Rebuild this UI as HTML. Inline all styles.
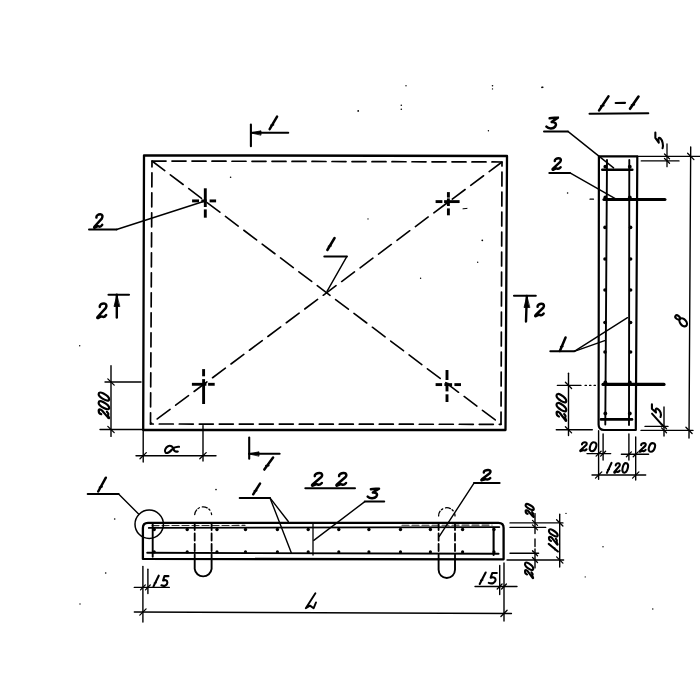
<!DOCTYPE html>
<html><head><meta charset="utf-8"><style>
html,body{margin:0;padding:0;background:#fff;}
svg{display:block;}
</style></head><body>
<svg width="700" height="700" viewBox="0 0 700 700">
<rect width="700" height="700" fill="#fff"/>
<g fill="none" stroke="#000" stroke-linecap="round" stroke-linejoin="round">
<g>
<path d="M144.0,155.3 L507.0,156.0 L505.5,430.0 L143.2,430.0 L144.0,155.3" stroke-width="2.3"/>
<path d="M152.0,161.0 L502.0,162.0 L501.0,424.3 L150.5,424.0 L152.0,161.0" stroke-width="1.7" stroke-dasharray="14 6" stroke-dashoffset="0"/>
<path d="M152.0,161.0 L501.0,424.3" stroke-width="1.6" stroke-dasharray="16 7" stroke-dashoffset="0"/>
<path d="M502.0,162.0 L150.5,424.0" stroke-width="1.6" stroke-dasharray="16 7" stroke-dashoffset="0"/>
<path d="M205.3,188.3 L205.3,207.0" stroke-width="2.9" stroke-linecap="butt"/>
<path d="M205.3,209.4 L205.3,217.7" stroke-width="2.9" stroke-linecap="butt"/>
<path d="M192.1,200.9 L199.0,200.9" stroke-width="2.9" stroke-linecap="butt"/>
<path d="M201.3,200.9 L206.7,200.9" stroke-width="2.9" stroke-linecap="butt"/>
<path d="M209.6,200.9 L216.1,200.9" stroke-width="2.9" stroke-linecap="butt"/>
<path d="M448.4,192.1 L448.4,197.6" stroke-width="2.9" stroke-linecap="butt"/>
<path d="M448.4,198.4 L448.4,206.0" stroke-width="2.9" stroke-linecap="butt"/>
<path d="M448.4,208.4 L448.4,215.3" stroke-width="2.9" stroke-linecap="butt"/>
<path d="M435.6,201.6 L442.4,201.6" stroke-width="2.9" stroke-linecap="butt"/>
<path d="M444.1,201.6 L459.6,201.6" stroke-width="2.9" stroke-linecap="butt"/>
<path d="M203.6,369.1 L203.6,376.3" stroke-width="2.9" stroke-linecap="butt"/>
<path d="M203.6,379.1 L203.6,404.0" stroke-width="2.9" stroke-linecap="butt"/>
<path d="M191.9,384.3 L206.4,384.3" stroke-width="2.9" stroke-linecap="butt"/>
<path d="M208.1,384.3 L214.7,384.3" stroke-width="2.9" stroke-linecap="butt"/>
<path d="M447.0,370.0 L447.0,380.0" stroke-width="2.9" stroke-linecap="butt"/>
<path d="M447.0,382.6 L447.0,391.4" stroke-width="2.9" stroke-linecap="butt"/>
<path d="M447.0,394.3 L447.0,402.0" stroke-width="2.9" stroke-linecap="butt"/>
<path d="M435.6,384.6 L442.1,384.6" stroke-width="2.9" stroke-linecap="butt"/>
<path d="M444.4,384.6 L452.1,384.6" stroke-width="2.9" stroke-linecap="butt"/>
<path d="M454.4,384.6 L461.0,384.6" stroke-width="2.9" stroke-linecap="butt"/>
<path d="M250.9,124.6 L250.9,146.3" stroke-width="2.1"/>
<path d="M251.0,132.8 L288.3,132.8" stroke-width="1.9"/>
<path d="M251.0,132.8 L261.0,130.8 L261.0,134.8Z" fill="#000" stroke-width="0.8"/>
<g transform="translate(268.80,116.60) scale(1.0875,0.8929)" stroke-width="2.5"><path vector-effect="non-scaling-stroke" transform="translate(0,0)" d="M0.8,14 L7.6,0 M2.3,9.8 L3.9,9.0"/></g>
<path d="M249.2,437.6 L249.2,458.7" stroke-width="2.1"/>
<path d="M249.0,453.8 L279.7,453.8" stroke-width="1.9"/>
<path d="M249.0,453.8 L259.0,451.8 L259.0,455.8Z" fill="#000" stroke-width="0.8"/>
<g transform="translate(263.30,457.60) scale(1.2875,0.8571)" stroke-width="2.5"><path vector-effect="non-scaling-stroke" transform="translate(0,0)" d="M0.8,14 L7.6,0 M2.3,9.8 L3.9,9.0"/></g>
<path d="M108.5,294.8 L129.0,294.8" stroke-width="2.1"/>
<path d="M116.8,294.8 L116.8,317.5" stroke-width="2.4"/>
<path d="M116.8,295.5 L114.0,306.5 L119.5,306.5Z" fill="#000" stroke-width="0.8"/>
<g transform="translate(96.00,303.00) scale(1.1000,1.1071)" stroke-width="2.5"><path vector-effect="non-scaling-stroke" transform="translate(0,0)" d="M3.4,3.6 C3.2,1.6 5.2,0.3 7.4,0.4 C9.6,0.5 10,2.6 8.8,4.6 L1.6,12.4 C0.6,13.6 1.4,14 2.6,13.2 C3.8,12.4 4.6,11.8 5.8,12.4 C7,13 8,12.6 9.2,10.8"/></g>
<path d="M514.0,295.7 L535.8,295.7" stroke-width="2.1"/>
<path d="M526.8,296.0 L526.0,321.5" stroke-width="2.4"/>
<path d="M526.8,296.5 L524.0,307.5 L529.5,307.5Z" fill="#000" stroke-width="0.8"/>
<g transform="translate(534.00,303.50) scale(1.0500,0.9286)" stroke-width="2.5"><path vector-effect="non-scaling-stroke" transform="translate(0,0)" d="M3.4,3.6 C3.2,1.6 5.2,0.3 7.4,0.4 C9.6,0.5 10,2.6 8.8,4.6 L1.6,12.4 C0.6,13.6 1.4,14 2.6,13.2 C3.8,12.4 4.6,11.8 5.8,12.4 C7,13 8,12.6 9.2,10.8"/></g>
<path d="M89.0,229.5 L116.6,229.5" stroke-width="2.0"/>
<path d="M116.6,229.5 L205.0,201.0" stroke-width="1.4"/>
<g transform="translate(93.00,213.90) scale(1.0000,1.0143)" stroke-width="2.5"><path vector-effect="non-scaling-stroke" transform="translate(0,0)" d="M3.4,3.6 C3.2,1.6 5.2,0.3 7.4,0.4 C9.6,0.5 10,2.6 8.8,4.6 L1.6,12.4 C0.6,13.6 1.4,14 2.6,13.2 C3.8,12.4 4.6,11.8 5.8,12.4 C7,13 8,12.6 9.2,10.8"/></g>
<path d="M324.3,256.4 L346.9,256.4" stroke-width="2.0"/>
<path d="M346.9,256.4 L327.0,291.4" stroke-width="1.4"/>
<g transform="translate(326.50,238.00) scale(1.0625,0.8571)" stroke-width="2.5"><path vector-effect="non-scaling-stroke" transform="translate(0,0)" d="M0.8,14 L7.6,0 M2.3,9.8 L3.9,9.0"/></g>
<path d="M111.0,365.7 L111.0,436.4" stroke-width="1.4"/>
<path d="M105.0,382.0 L141.0,382.0" stroke-width="1.4"/>
<path d="M100.0,429.5 L143.0,429.5" stroke-width="1.4"/>
<path d="M107.8,378.9 L114.2,385.1" stroke-width="1.3"/>
<path d="M107.8,426.4 L114.2,432.6" stroke-width="1.3"/>
<g transform="translate(98.40,419.20) rotate(-90) scale(0.7198,0.7857) translate(4.900,0) skewX(-19.29)" stroke-width="2.2"><path vector-effect="non-scaling-stroke" transform="translate(0,0)" d="M3.4,3.6 C3.2,1.6 5.2,0.3 7.4,0.4 C9.6,0.5 10,2.6 8.8,4.6 L1.6,12.4 C0.6,13.6 1.4,14 2.6,13.2 C3.8,12.4 4.6,11.8 5.8,12.4 C7,13 8,12.6 9.2,10.8"/><path vector-effect="non-scaling-stroke" transform="translate(12,0)" d="M5.8,0.3 C9,0.3 9.8,3 9,6.5 C8,11 6,13.7 3.6,13.7 C0.8,13.7 0.3,10.5 1.1,7 C2,3 3.5,0.3 5.8,0.3 Z"/><path vector-effect="non-scaling-stroke" transform="translate(24,0)" d="M5.8,0.3 C9,0.3 9.8,3 9,6.5 C8,11 6,13.7 3.6,13.7 C0.8,13.7 0.3,10.5 1.1,7 C2,3 3.5,0.3 5.8,0.3 Z"/></g>
<path d="M136.0,455.7 L216.0,455.7" stroke-width="1.4"/>
<path d="M143.2,430.0 L143.2,462.0" stroke-width="1.4"/>
<path d="M203.0,425.6 L203.0,461.0" stroke-width="1.4"/>
<path d="M140.0,458.8 L146.3,452.6" stroke-width="1.3"/>
<path d="M199.8,458.8 L206.2,452.6" stroke-width="1.3"/>
<path d="M179,446.8 C176,446.5 173.5,448 172,449.5 C170,452 167,454 165.5,452.5 C164,451 165.5,447.5 168,446.3 C170.5,445 173,446.5 173.5,449 C174,451 175.5,452 177.8,451.5" stroke-width="2.1"/>
<g transform="translate(598.00,96.40) scale(1.3750,1.0000)" stroke-width="2.6"><path vector-effect="non-scaling-stroke" transform="translate(0,0)" d="M0.8,14 L7.6,0 M2.3,9.8 L3.9,9.0"/></g>
<path d="M615.7,103.0 L625.0,102.8" stroke-width="2.2"/>
<g transform="translate(629.00,96.60) scale(1.2500,0.8714)" stroke-width="2.6"><path vector-effect="non-scaling-stroke" transform="translate(0,0)" d="M0.8,14 L7.6,0 M2.3,9.8 L3.9,9.0"/></g>
<path d="M589.5,113.8 L648.3,113.3" stroke-width="2.0"/>
<path d="M598.9,156.3 L637.3,156.3 L635.8,430 L604,430 Q598.6,430 598.6,424.5 Z" stroke-width="2.2"/>
<path d="M607.0,160.0 L605.3,424.6" stroke-width="1.9"/>
<path d="M629.3,160.0 L629.0,425.0" stroke-width="1.9"/>
<path d="M602.3,169.7 L632.3,169.7" stroke-width="2.6"/>
<path d="M601.0,419.4 L632.0,419.4" stroke-width="2.6"/>
<path d="M604.0,199.5 L664.9,199.5" stroke-width="3.2"/>
<path d="M603.0,384.4 L664.0,384.4" stroke-width="3.2"/>
<circle cx="605.0" cy="227.4" r="1.8" fill="#000" stroke="none"/>
<circle cx="630.6" cy="227.4" r="1.8" fill="#000" stroke="none"/>
<circle cx="605.0" cy="259.0" r="1.8" fill="#000" stroke="none"/>
<circle cx="630.6" cy="259.0" r="1.8" fill="#000" stroke="none"/>
<circle cx="605.0" cy="290.0" r="1.8" fill="#000" stroke="none"/>
<circle cx="630.6" cy="290.0" r="1.8" fill="#000" stroke="none"/>
<circle cx="605.0" cy="322.5" r="1.8" fill="#000" stroke="none"/>
<circle cx="630.6" cy="322.5" r="1.8" fill="#000" stroke="none"/>
<circle cx="605.0" cy="352.0" r="1.8" fill="#000" stroke="none"/>
<circle cx="630.6" cy="352.0" r="1.8" fill="#000" stroke="none"/>
<circle cx="605.3" cy="166.7" r="1.9" fill="#000" stroke="none"/>
<circle cx="629.8" cy="166.7" r="1.9" fill="#000" stroke="none"/>
<circle cx="605.3" cy="197.5" r="1.9" fill="#000" stroke="none"/>
<circle cx="629.8" cy="197.5" r="1.9" fill="#000" stroke="none"/>
<circle cx="605.3" cy="382.5" r="1.9" fill="#000" stroke="none"/>
<circle cx="629.8" cy="382.5" r="1.9" fill="#000" stroke="none"/>
<circle cx="605.3" cy="413.5" r="1.9" fill="#000" stroke="none"/>
<circle cx="629.8" cy="413.5" r="1.9" fill="#000" stroke="none"/>
<path d="M544.0,131.4 L567.9,131.4" stroke-width="2.0"/>
<path d="M567.9,131.4 L613.6,167.9" stroke-width="1.4"/>
<g transform="translate(545.40,117.10) scale(1.2500,0.8714)" stroke-width="2.5"><path vector-effect="non-scaling-stroke" transform="translate(0,0)" d="M3.4,1.4 C5.5,0.6 8,1.0 10,0.6 L5.0,5.6 C8.4,5.4 9.2,8.4 7.8,10.9 C6.4,13.5 2.6,13.8 0.8,11.0"/></g>
<path d="M549.3,172.9 L570.0,172.9" stroke-width="2.0"/>
<path d="M570.0,172.9 L617.0,199.7" stroke-width="1.4"/>
<g transform="translate(551.40,157.90) scale(1.0000,0.8643)" stroke-width="2.5"><path vector-effect="non-scaling-stroke" transform="translate(0,0)" d="M3.4,3.6 C3.2,1.6 5.2,0.3 7.4,0.4 C9.6,0.5 10,2.6 8.8,4.6 L1.6,12.4 C0.6,13.6 1.4,14 2.6,13.2 C3.8,12.4 4.6,11.8 5.8,12.4 C7,13 8,12.6 9.2,10.8"/></g>
<path d="M550.3,351.3 L574.3,351.3" stroke-width="2.0"/>
<path d="M574.3,351.3 L604.7,340.6" stroke-width="1.4"/>
<path d="M574.3,351.3 L627.5,317.7" stroke-width="1.4"/>
<g transform="translate(559.20,337.50) scale(0.8375,0.9643)" stroke-width="2.5"><path vector-effect="non-scaling-stroke" transform="translate(0,0)" d="M0.8,14 L7.6,0 M2.3,9.8 L3.9,9.0"/></g>
<path d="M637.0,156.4 L700.0,156.4" stroke-width="1.4"/>
<path d="M641.3,160.9 L679.0,160.9" stroke-width="1.4"/>
<path d="M667.0,144.0 L667.0,166.7" stroke-width="1.3"/>
<path d="M664.5,154.0 L669.5,158.8" stroke-width="1.3"/>
<path d="M664.5,158.5 L669.5,163.3" stroke-width="1.3"/>
<g transform="translate(655.00,149.60) rotate(-90) scale(1.0353,0.6000) translate(7.000,0) skewX(-26.57)" stroke-width="2.1"><path vector-effect="non-scaling-stroke" transform="translate(0,0)" d="M9.8,0.6 L4.6,0.6 L2.8,6.3 C5,5.2 8.6,5.6 8.4,9 C8.2,12.5 4.5,14.3 0.6,12.6"/></g>
<path d="M690.7,147.0 L689.0,438.0" stroke-width="1.4"/>
<path d="M687.6,153.2 L693.9,159.6" stroke-width="1.3"/>
<path d="M685.9,427.2 L692.1,433.5" stroke-width="1.3"/>
<ellipse cx="677.6" cy="317.4" rx="2.6" ry="1.7" transform="rotate(38 677.6 317.4)" stroke-width="2.1"/>
<ellipse cx="683.2" cy="322.3" rx="4.6" ry="3.0" transform="rotate(50 683.2 322.3)" stroke-width="2.2"/>
<path d="M568.5,373.2 L568.5,435.5" stroke-width="1.4"/>
<path d="M557.4,385.4 L580.9,385.4" stroke-width="1.4"/>
<path d="M585.0,385.4 L598.0,385.4" stroke-width="1.1" stroke-dasharray="1.5 3"/>
<path d="M556.3,429.8 L592.3,429.8" stroke-width="1.4"/>
<path d="M565.4,382.2 L571.6,388.5" stroke-width="1.3"/>
<path d="M565.4,426.7 L571.6,432.9" stroke-width="1.3"/>
<g transform="translate(556.30,421.80) rotate(-90) scale(0.7506,0.7286) translate(4.900,0) skewX(-19.29)" stroke-width="2.2"><path vector-effect="non-scaling-stroke" transform="translate(0,0)" d="M3.4,3.6 C3.2,1.6 5.2,0.3 7.4,0.4 C9.6,0.5 10,2.6 8.8,4.6 L1.6,12.4 C0.6,13.6 1.4,14 2.6,13.2 C3.8,12.4 4.6,11.8 5.8,12.4 C7,13 8,12.6 9.2,10.8"/><path vector-effect="non-scaling-stroke" transform="translate(12,0)" d="M5.8,0.3 C9,0.3 9.8,3 9,6.5 C8,11 6,13.7 3.6,13.7 C0.8,13.7 0.3,10.5 1.1,7 C2,3 3.5,0.3 5.8,0.3 Z"/><path vector-effect="non-scaling-stroke" transform="translate(24,0)" d="M5.8,0.3 C9,0.3 9.8,3 9,6.5 C8,11 6,13.7 3.6,13.7 C0.8,13.7 0.3,10.5 1.1,7 C2,3 3.5,0.3 5.8,0.3 Z"/></g>
<path d="M645.0,426.4 L668.0,426.4" stroke-width="1.4"/>
<path d="M641.0,430.4 L693.0,430.4" stroke-width="1.4"/>
<path d="M664.0,407.0 L664.0,436.0" stroke-width="1.4"/>
<path d="M661.5,423.9 L666.5,428.8" stroke-width="1.3"/>
<path d="M661.5,427.9 L666.5,432.8" stroke-width="1.3"/>
<path d="M652.0,413.6 L663.5,426.5" stroke-width="1.9"/>
<g transform="translate(651.50,418.00) rotate(-90) scale(0.8235,0.7143) translate(7.000,0) skewX(-26.57)" stroke-width="2.1"><path vector-effect="non-scaling-stroke" transform="translate(0,0)" d="M9.8,0.6 L4.6,0.6 L2.8,6.3 C5,5.2 8.6,5.6 8.4,9 C8.2,12.5 4.5,14.3 0.6,12.6"/></g>
<path d="M598.6,430.7 L598.6,479.3" stroke-width="1.4"/>
<path d="M603.1,434.0 L603.1,460.0" stroke-width="1.4"/>
<path d="M628.9,434.0 L628.9,460.0" stroke-width="1.4"/>
<path d="M635.7,437.0 L635.7,480.0" stroke-width="1.4"/>
<path d="M587.0,453.6 L610.7,453.6" stroke-width="1.4"/>
<path d="M621.4,454.3 L648.6,454.3" stroke-width="1.4"/>
<path d="M592.0,475.0 L645.7,475.0" stroke-width="1.4"/>
<path d="M596.1,456.1 L601.1,451.2" stroke-width="1.3"/>
<path d="M600.6,456.1 L605.6,451.2" stroke-width="1.3"/>
<path d="M626.4,456.8 L631.4,451.9" stroke-width="1.3"/>
<path d="M633.2,456.8 L638.2,451.9" stroke-width="1.3"/>
<path d="M595.5,478.1 L601.8,471.9" stroke-width="1.3"/>
<path d="M632.6,478.1 L638.9,471.9" stroke-width="1.3"/>
<g transform="translate(579.30,442.00) scale(0.7867,0.6714)" stroke-width="2.1"><path vector-effect="non-scaling-stroke" transform="translate(0,0)" d="M3.4,3.6 C3.2,1.6 5.2,0.3 7.4,0.4 C9.6,0.5 10,2.6 8.8,4.6 L1.6,12.4 C0.6,13.6 1.4,14 2.6,13.2 C3.8,12.4 4.6,11.8 5.8,12.4 C7,13 8,12.6 9.2,10.8"/><path vector-effect="non-scaling-stroke" transform="translate(12.5,0)" d="M5.8,0.3 C9,0.3 9.8,3 9,6.5 C8,11 6,13.7 3.6,13.7 C0.8,13.7 0.3,10.5 1.1,7 C2,3 3.5,0.3 5.8,0.3 Z"/></g>
<g transform="translate(638.60,442.90) scale(0.7600,0.6500)" stroke-width="2.1"><path vector-effect="non-scaling-stroke" transform="translate(0,0)" d="M3.4,3.6 C3.2,1.6 5.2,0.3 7.4,0.4 C9.6,0.5 10,2.6 8.8,4.6 L1.6,12.4 C0.6,13.6 1.4,14 2.6,13.2 C3.8,12.4 4.6,11.8 5.8,12.4 C7,13 8,12.6 9.2,10.8"/><path vector-effect="non-scaling-stroke" transform="translate(12.5,0)" d="M5.8,0.3 C9,0.3 9.8,3 9,6.5 C8,11 6,13.7 3.6,13.7 C0.8,13.7 0.3,10.5 1.1,7 C2,3 3.5,0.3 5.8,0.3 Z"/></g>
<g transform="translate(606.40,462.90) scale(0.6727,0.7143)" stroke-width="2.1"><path vector-effect="non-scaling-stroke" transform="translate(0,0)" d="M0.8,14 L7.6,0 M2.3,9.8 L3.9,9.0"/><path vector-effect="non-scaling-stroke" transform="translate(10.5,0)" d="M3.4,3.6 C3.2,1.6 5.2,0.3 7.4,0.4 C9.6,0.5 10,2.6 8.8,4.6 L1.6,12.4 C0.6,13.6 1.4,14 2.6,13.2 C3.8,12.4 4.6,11.8 5.8,12.4 C7,13 8,12.6 9.2,10.8"/><path vector-effect="non-scaling-stroke" transform="translate(23.0,0)" d="M5.8,0.3 C9,0.3 9.8,3 9,6.5 C8,11 6,13.7 3.6,13.7 C0.8,13.7 0.3,10.5 1.1,7 C2,3 3.5,0.3 5.8,0.3 Z"/></g>
<path d="M142.9,558.9 L142.9,528 Q142.9,522.8 148,522.8 L498.5,522.9 Q503.6,522.9 503.6,528 L503.6,559.3 Z" stroke-width="2.3"/>
<path d="M152.0,525.6 L245.0,525.4" stroke-width="1.1" stroke-dasharray="7 3" stroke="#333"/>
<path d="M402.0,525.3 L492.0,525.1" stroke-width="1.1" stroke-dasharray="7 3" stroke="#333"/>
<path d="M148.8,527.9 L499.3,527.1" stroke-width="1.9"/>
<path d="M147.2,552.8 L498.6,553.8" stroke-width="1.9"/>
<path d="M152.7,524.0 L152.7,556.8" stroke-width="1.9"/>
<path d="M493.6,527.9 L493.6,555.0" stroke-width="2.1"/>
<path d="M313.0,524.0 L313.0,555.0" stroke-width="1.3"/>
<circle cx="154.2" cy="529.5" r="1.7" fill="#000" stroke="none"/>
<circle cx="154.2" cy="551.9" r="1.6" fill="#000" stroke="none"/>
<circle cx="187.2" cy="529.5" r="1.7" fill="#000" stroke="none"/>
<circle cx="187.2" cy="551.9" r="1.6" fill="#000" stroke="none"/>
<circle cx="217.0" cy="529.5" r="1.7" fill="#000" stroke="none"/>
<circle cx="217.0" cy="551.9" r="1.6" fill="#000" stroke="none"/>
<circle cx="245.5" cy="529.5" r="1.7" fill="#000" stroke="none"/>
<circle cx="245.5" cy="551.9" r="1.6" fill="#000" stroke="none"/>
<circle cx="277.4" cy="529.5" r="1.7" fill="#000" stroke="none"/>
<circle cx="277.4" cy="551.9" r="1.6" fill="#000" stroke="none"/>
<circle cx="308.2" cy="529.5" r="1.7" fill="#000" stroke="none"/>
<circle cx="308.2" cy="551.9" r="1.6" fill="#000" stroke="none"/>
<circle cx="338.8" cy="529.5" r="1.7" fill="#000" stroke="none"/>
<circle cx="338.8" cy="551.9" r="1.6" fill="#000" stroke="none"/>
<circle cx="368.9" cy="529.5" r="1.7" fill="#000" stroke="none"/>
<circle cx="368.9" cy="551.9" r="1.6" fill="#000" stroke="none"/>
<circle cx="400.5" cy="529.5" r="1.7" fill="#000" stroke="none"/>
<circle cx="400.5" cy="551.9" r="1.6" fill="#000" stroke="none"/>
<circle cx="430.4" cy="529.5" r="1.7" fill="#000" stroke="none"/>
<circle cx="430.4" cy="551.9" r="1.6" fill="#000" stroke="none"/>
<circle cx="462.6" cy="529.5" r="1.7" fill="#000" stroke="none"/>
<circle cx="462.6" cy="551.9" r="1.6" fill="#000" stroke="none"/>
<circle cx="494.0" cy="529.5" r="1.7" fill="#000" stroke="none"/>
<circle cx="494.0" cy="551.9" r="1.6" fill="#000" stroke="none"/>
<path d="M194.7,523.0 L194.7,559.0" stroke-width="1.8" stroke-dasharray="7 3.5" stroke-dashoffset="0"/>
<path d="M211.6,523.0 L211.6,559.0" stroke-width="1.8" stroke-dasharray="7 3.5" stroke-dashoffset="0"/>
<path d="M194.7,559 L194.7,568.8 A8.5,8.5 0 0 0 211.6,568.8 L211.6,559" stroke-width="1.9"/>
<path d="M194.7,514.5 A8.5,8.5 0 0 1 211.6,514.5" stroke-width="1.3" stroke-dasharray="5 2 1.5 3"/>
<path d="M438.6,523.0 L438.6,559.0" stroke-width="1.8" stroke-dasharray="7 3.5" stroke-dashoffset="0"/>
<path d="M455.0,523.0 L455.0,559.0" stroke-width="1.8" stroke-dasharray="7 3.5" stroke-dashoffset="0"/>
<path d="M438.6,559 L438.6,569.8 A8.2,8.2 0 0 0 455,569.8 L455,559" stroke-width="1.9"/>
<path d="M438.6,515.9 A8.2,8.2 0 0 1 455,515.9" stroke-width="1.3" stroke-dasharray="5 2 1.5 3"/>
<circle cx="149.2" cy="524.2" r="14.2" stroke-width="1.5" fill="none"/>
<path d="M87.7,494.0 L118.6,494.0" stroke-width="2.0"/>
<path d="M118.6,494.0 L138.6,514.0" stroke-width="1.4"/>
<g transform="translate(97.30,477.70) scale(1.1250,0.9857)" stroke-width="2.5"><path vector-effect="non-scaling-stroke" transform="translate(0,0)" d="M0.8,14 L7.6,0 M2.3,9.8 L3.9,9.0"/></g>
<path d="M305.3,488.2 L355.0,488.2" stroke-width="2.0"/>
<g transform="translate(310.60,472.70) scale(1.2200,0.9500)" stroke-width="2.5"><path vector-effect="non-scaling-stroke" transform="translate(0,0)" d="M3.4,3.6 C3.2,1.6 5.2,0.3 7.4,0.4 C9.6,0.5 10,2.6 8.8,4.6 L1.6,12.4 C0.6,13.6 1.4,14 2.6,13.2 C3.8,12.4 4.6,11.8 5.8,12.4 C7,13 8,12.6 9.2,10.8"/></g>
<g transform="translate(335.00,472.70) scale(1.2000,0.9500)" stroke-width="2.5"><path vector-effect="non-scaling-stroke" transform="translate(0,0)" d="M3.4,3.6 C3.2,1.6 5.2,0.3 7.4,0.4 C9.6,0.5 10,2.6 8.8,4.6 L1.6,12.4 C0.6,13.6 1.4,14 2.6,13.2 C3.8,12.4 4.6,11.8 5.8,12.4 C7,13 8,12.6 9.2,10.8"/></g>
<path d="M239.7,497.9 L270.0,497.9" stroke-width="2.0"/>
<path d="M270.0,497.9 L288.3,521.5" stroke-width="1.4"/>
<path d="M270.0,497.9 L291.2,552.6" stroke-width="1.4"/>
<g transform="translate(252.40,483.60) scale(1.0000,0.7643)" stroke-width="2.5"><path vector-effect="non-scaling-stroke" transform="translate(0,0)" d="M0.8,14 L7.6,0 M2.3,9.8 L3.9,9.0"/></g>
<path d="M364.8,501.6 L384.2,501.6" stroke-width="2.0"/>
<path d="M364.8,501.6 L313.8,540.4" stroke-width="1.4"/>
<g transform="translate(366.70,488.20) scale(1.2300,0.7714)" stroke-width="2.5"><path vector-effect="non-scaling-stroke" transform="translate(0,0)" d="M3.4,1.4 C5.5,0.6 8,1.0 10,0.6 L5.0,5.6 C8.4,5.4 9.2,8.4 7.8,10.9 C6.4,13.5 2.6,13.8 0.8,11.0"/></g>
<path d="M474.0,483.1 L499.6,483.1" stroke-width="2.0"/>
<path d="M474.0,483.1 L439.3,536.4" stroke-width="1.4"/>
<g transform="translate(480.10,469.70) scale(1.1000,0.7786)" stroke-width="2.5"><path vector-effect="non-scaling-stroke" transform="translate(0,0)" d="M3.4,3.6 C3.2,1.6 5.2,0.3 7.4,0.4 C9.6,0.5 10,2.6 8.8,4.6 L1.6,12.4 C0.6,13.6 1.4,14 2.6,13.2 C3.8,12.4 4.6,11.8 5.8,12.4 C7,13 8,12.6 9.2,10.8"/></g>
<path d="M142.9,566.4 L142.9,622.1" stroke-width="1.4"/>
<path d="M147.9,569.3 L147.9,593.6" stroke-width="1.4"/>
<path d="M134.3,587.4 L169.3,587.4" stroke-width="1.4"/>
<path d="M140.5,589.9 L145.3,584.9" stroke-width="1.3"/>
<path d="M145.5,589.9 L150.3,584.9" stroke-width="1.3"/>
<g transform="translate(152.90,575.70) scale(0.7659,0.7643)" stroke-width="2.1"><path vector-effect="non-scaling-stroke" transform="translate(0,0)" d="M0.8,14 L7.6,0 M2.3,9.8 L3.9,9.0"/><path vector-effect="non-scaling-stroke" transform="translate(10.5,0)" d="M9.8,0.6 L4.6,0.6 L2.8,6.3 C5,5.2 8.6,5.6 8.4,9 C8.2,12.5 4.5,14.3 0.6,12.6"/></g>
<path d="M134.3,612.0 L511.5,613.5" stroke-width="1.3"/>
<path d="M139.8,615.1 L146.1,608.9" stroke-width="1.3"/>
<path d="M500.9,616.5 L507.1,610.2" stroke-width="1.3"/>
<path d="M504.0,563.0 L504.0,621.0" stroke-width="1.4"/>
<path d="M499.7,565.5 L499.7,594.5" stroke-width="1.4"/>
<path d="M475.0,586.5 L517.0,586.5" stroke-width="1.4"/>
<path d="M497.2,589.0 L502.1,584.0" stroke-width="1.3"/>
<path d="M501.6,589.0 L506.4,584.0" stroke-width="1.3"/>
<g transform="translate(479.00,572.50) scale(0.8780,0.8214)" stroke-width="2.1"><path vector-effect="non-scaling-stroke" transform="translate(0,0)" d="M0.8,14 L7.6,0 M2.3,9.8 L3.9,9.0"/><path vector-effect="non-scaling-stroke" transform="translate(10.5,0)" d="M9.8,0.6 L4.6,0.6 L2.8,6.3 C5,5.2 8.6,5.6 8.4,9 C8.2,12.5 4.5,14.3 0.6,12.6"/></g>
<g transform="translate(304.60,593.30) scale(1.2000,1.0714)" stroke-width="1.9"><path vector-effect="non-scaling-stroke" transform="translate(0,0)" d="M9,0 L1,14 L4.5,11.5 L7.5,14 L9.5,8.5"/></g>
<path d="M510.0,522.9 L562.9,522.9" stroke-width="1.4"/>
<path d="M510.0,527.4 L545.7,527.4" stroke-width="1.4"/>
<path d="M510.0,553.3 L538.6,553.3" stroke-width="1.4"/>
<path d="M507.0,560.0 L563.6,560.0" stroke-width="1.4"/>
<path d="M535.0,513.6 L535.0,533.5" stroke-width="1.4"/>
<path d="M535.0,539.0 L535.0,546.5" stroke-width="1.4"/>
<path d="M535.0,549.0 L535.0,567.9" stroke-width="1.4"/>
<path d="M559.7,514.3 L559.7,567.0" stroke-width="1.4"/>
<path d="M532.5,520.4 L537.5,525.4" stroke-width="1.3"/>
<path d="M532.5,524.9 L537.5,529.9" stroke-width="1.3"/>
<path d="M532.5,550.8 L537.5,555.8" stroke-width="1.3"/>
<path d="M532.5,557.5 L537.5,562.5" stroke-width="1.3"/>
<path d="M556.6,519.8 L562.9,526.0" stroke-width="1.3"/>
<path d="M556.6,556.9 L562.9,563.1" stroke-width="1.3"/>
<g transform="translate(525.40,517.70) rotate(-90) scale(0.5502,0.6143) translate(4.900,0) skewX(-19.29)" stroke-width="2.1"><path vector-effect="non-scaling-stroke" transform="translate(0,0)" d="M3.4,3.6 C3.2,1.6 5.2,0.3 7.4,0.4 C9.6,0.5 10,2.6 8.8,4.6 L1.6,12.4 C0.6,13.6 1.4,14 2.6,13.2 C3.8,12.4 4.6,11.8 5.8,12.4 C7,13 8,12.6 9.2,10.8"/><path vector-effect="non-scaling-stroke" transform="translate(12,0)" d="M5.8,0.3 C9,0.3 9.8,3 9,6.5 C8,11 6,13.7 3.6,13.7 C0.8,13.7 0.3,10.5 1.1,7 C2,3 3.5,0.3 5.8,0.3 Z"/></g>
<g transform="translate(524.80,579.10) rotate(-90) scale(0.6617,0.6143) translate(4.900,0) skewX(-19.29)" stroke-width="2.1"><path vector-effect="non-scaling-stroke" transform="translate(0,0)" d="M3.4,3.6 C3.2,1.6 5.2,0.3 7.4,0.4 C9.6,0.5 10,2.6 8.8,4.6 L1.6,12.4 C0.6,13.6 1.4,14 2.6,13.2 C3.8,12.4 4.6,11.8 5.8,12.4 C7,13 8,12.6 9.2,10.8"/><path vector-effect="non-scaling-stroke" transform="translate(12,0)" d="M5.8,0.3 C9,0.3 9.8,3 9,6.5 C8,11 6,13.7 3.6,13.7 C0.8,13.7 0.3,10.5 1.1,7 C2,3 3.5,0.3 5.8,0.3 Z"/></g>
<g transform="translate(548.70,552.00) rotate(-90) scale(0.6477,0.6571) translate(4.900,0) skewX(-19.29)" stroke-width="2.1"><path vector-effect="non-scaling-stroke" transform="translate(0,0)" d="M0.8,14 L7.6,0 M2.3,9.8 L3.9,9.0"/><path vector-effect="non-scaling-stroke" transform="translate(10,0)" d="M3.4,3.6 C3.2,1.6 5.2,0.3 7.4,0.4 C9.6,0.5 10,2.6 8.8,4.6 L1.6,12.4 C0.6,13.6 1.4,14 2.6,13.2 C3.8,12.4 4.6,11.8 5.8,12.4 C7,13 8,12.6 9.2,10.8"/><path vector-effect="non-scaling-stroke" transform="translate(22,0)" d="M5.8,0.3 C9,0.3 9.8,3 9,6.5 C8,11 6,13.7 3.6,13.7 C0.8,13.7 0.3,10.5 1.1,7 C2,3 3.5,0.3 5.8,0.3 Z"/></g>
<circle cx="358.2" cy="110.9" r="0.9" fill="#000" stroke="none"/>
<circle cx="401.3" cy="105.2" r="0.8" fill="#000" stroke="none"/>
<circle cx="401.3" cy="109.3" r="0.8" fill="#000" stroke="none"/>
<circle cx="406.0" cy="85.7" r="0.7" fill="#000" stroke="none"/>
<circle cx="492.5" cy="85.7" r="0.8" fill="#000" stroke="none"/>
<circle cx="492.5" cy="88.9" r="0.7" fill="#000" stroke="none"/>
<circle cx="542.8" cy="87.3" r="0.8" fill="#000" stroke="none"/>
<circle cx="488.4" cy="130.7" r="0.7" fill="#000" stroke="none"/>
<circle cx="230.6" cy="177.2" r="0.8" fill="#000" stroke="none"/>
<circle cx="482.3" cy="240.3" r="0.9" fill="#000" stroke="none"/>
<circle cx="542.0" cy="87.3" r="0.9" fill="#000" stroke="none"/>
<circle cx="567.6" cy="193.0" r="0.8" fill="#000" stroke="none"/>
<circle cx="114.7" cy="519.0" r="0.8" fill="#000" stroke="none"/>
<circle cx="105.7" cy="573.0" r="0.8" fill="#000" stroke="none"/>
<circle cx="216.0" cy="489.6" r="0.8" fill="#000" stroke="none"/>
<circle cx="566.0" cy="513.4" r="0.7" fill="#000" stroke="none"/>
<circle cx="80.0" cy="604.0" r="0.7" fill="#000" stroke="none"/>
<circle cx="652.8" cy="609.0" r="0.7" fill="#000" stroke="none"/>
<circle cx="603.0" cy="546.7" r="0.7" fill="#000" stroke="none"/>
<circle cx="585.2" cy="576.9" r="0.6" fill="#000" stroke="none"/>
<circle cx="79.7" cy="345.7" r="0.7" fill="#000" stroke="none"/>
<circle cx="368.0" cy="218.9" r="0.7" fill="#000" stroke="none"/>
<circle cx="477.7" cy="262.3" r="0.7" fill="#000" stroke="none"/>
<circle cx="420.6" cy="278.3" r="0.7" fill="#000" stroke="none"/>
<path d="M463.0,208.8 L467.0,208.4" stroke-width="1.0"/>
<path d="M590.0,199.2 L593.5,199.2" stroke-width="1.2"/>
</g>
</g>
</svg>
</body></html>
